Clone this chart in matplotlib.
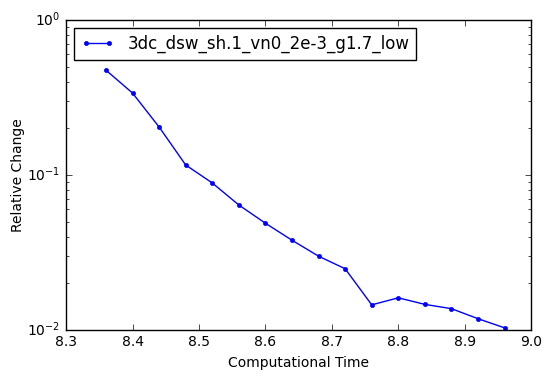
import matplotlib
matplotlib.use("Agg")
import matplotlib.pyplot as plt

# data
times = [8.36, 8.40, 8.44, 8.48, 8.52, 8.56, 8.60, 8.64, 8.68, 8.72,
         8.76, 8.80, 8.84, 8.88, 8.92, 8.96]
rel_change = [0.475, 0.338, 0.204, 0.116, 0.0888, 0.064, 0.0488, 0.0379,
              0.0299, 0.0248, 0.0145, 0.0161, 0.0146, 0.0137, 0.0118, 0.0103]
label = "3dc_dsw_sh.1_vn0_2e-3_g1.7_low"

plt.style.use("classic")
fig = plt.figure(figsize=(5.51, 3.80), dpi=100)
ax = fig.add_axes([0.120, 0.132, 0.844, 0.815])

ax.semilogy(times, rel_change, "b.-", label=label)
ax.set_xlim(8.3, 9.0)
ax.set_ylim(1e-2, 1e0)
ax.set_xlabel("Computational Time", fontsize=10)
ax.set_ylabel("Relative Change", fontsize=10, labelpad=2)
ax.tick_params(labelsize=10)
ax.legend(loc="upper left", fontsize=12)

fig.savefig("out.png", dpi=100)
